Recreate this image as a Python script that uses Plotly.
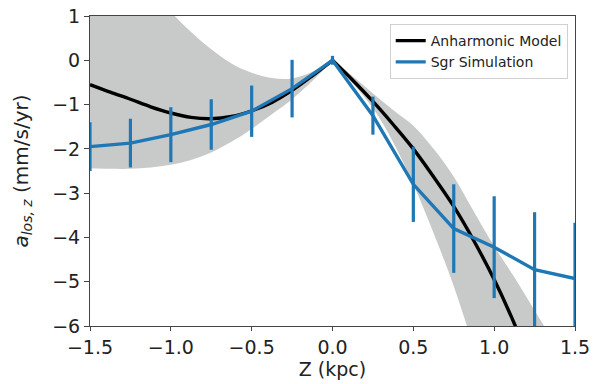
import plotly.graph_objects as go

# Simulation (Sgr) data
z_sim = [-1.5, -1.25, -1.0, -0.75, -0.5, -0.25, 0.0, 0.25, 0.5, 0.75, 1.0, 1.25, 1.5]
a_sim = [-1.95, -1.87, -1.68, -1.45, -1.15, -0.64, 0.0, -1.25, -2.8, -3.8, -4.22, -4.73, -4.93]
a_sim_err = [0.55, 0.55, 0.62, 0.57, 0.58, 0.65, 0.1, 0.43, 0.85, 1.0, 1.15, 1.3, 1.26]

# Anharmonic model curve and its uncertainty band
z_model = [-1.5, -1.375, -1.25, -1.125, -1.0, -0.875, -0.75, -0.625, -0.5, -0.375, -0.25, -0.125, 0.0,
           0.125, 0.25, 0.375, 0.5, 0.625, 0.75, 0.875, 1.0, 1.125, 1.25, 1.375, 1.5]
a_model = [-0.55, -0.72, -0.88, -1.05, -1.19, -1.29, -1.32, -1.27, -1.14, -0.95, -0.68, -0.35, 0.0,
           -0.45, -0.93, -1.45, -2.0, -2.63, -3.3, -4.08, -4.95, -5.95, -7.1, -8.4, -9.8]
band_hi = [3.8, 3.0, 2.3, 1.7, 1.1, 0.64, 0.25, -0.07, -0.28, -0.40, -0.41, -0.26, 0.0,
           -0.36, -0.75, -1.12, -1.48, -2.0, -2.63, -3.42, -4.2, -4.9, -5.65, -6.4, -7.2]
band_lo = [-2.44, -2.45, -2.45, -2.42, -2.36, -2.25, -2.08, -1.84, -1.55, -1.22, -0.88, -0.47, 0.0,
           -0.52, -1.08, -1.85, -2.8, -3.9, -5.1, -6.5, -8.0, -9.6, -11.2, -13.0, -14.8]

x_ticks = [-1.5, -1.0, -0.5, 0.0, 0.5, 1.0, 1.5]
x_ticktext = ["\u22121.5", "\u22121.0", "\u22120.5", "0.0", "0.5", "1.0", "1.5"]
y_ticks = [1, 0, -1, -2, -3, -4, -5, -6]
y_ticktext = ["1", "0", "\u22121", "\u22122", "\u22123", "\u22124", "\u22125", "\u22126"]

BAND = "#c7cac9"
BLUE = "#1f77b4"

# split the model at the cusp z = 0 so each side is drawn as a smooth curve
i0 = z_model.index(0.0)
sides = [slice(0, i0 + 1), slice(i0, len(z_model))]

fig = go.Figure()
for s in sides:
    fig.add_trace(go.Scatter(x=z_model[s], y=band_lo[s], mode="lines", line_shape="spline",
                             line=dict(width=0, color=BAND), showlegend=False, hoverinfo="skip"))
    fig.add_trace(go.Scatter(x=z_model[s], y=band_hi[s], mode="lines", line_shape="spline",
                             line=dict(width=0, color=BAND), fill="tonexty", fillcolor=BAND,
                             showlegend=False, hoverinfo="skip"))
for k, s in enumerate(sides):
    fig.add_trace(go.Scatter(x=z_model[s], y=a_model[s], mode="lines", line_shape="spline",
                             name="Anharmonic Model", legendgroup="model", showlegend=(k == 0),
                             line=dict(color="black", width=3.4)))
fig.add_trace(go.Scatter(x=z_sim, y=a_sim, mode="lines", name="Sgr Simulation",
                         line=dict(color=BLUE, width=3.4),
                         error_y=dict(type="data", array=a_sim_err, visible=True,
                                      color=BLUE, thickness=3.2, width=0)))

axis_font = dict(family="DejaVu Sans", size=19, color="#222")
fig.update_layout(
    width=601, height=384,
    margin=dict(l=82, r=34, t=8, b=66),
    paper_bgcolor="white", plot_bgcolor="white",
    showlegend=True,
    legend=dict(x=0.985, y=0.974, xanchor="right", yanchor="top",
                traceorder="normal",
                bgcolor="white", bordercolor="#d0d0d0", borderwidth=1,
                font=dict(family="DejaVu Sans", size=14, color="#222"),
                itemwidth=30, tracegroupgap=0),
    font=dict(family="DejaVu Sans"),
)
fig.update_xaxes(range=[-1.5, 1.5], tickvals=x_ticks, ticktext=x_ticktext,
                 showgrid=False, zeroline=False, showline=True, linecolor="#444",
                 linewidth=1, mirror=True, ticks="outside", ticklen=4, tickcolor="#444",
                 tickfont=axis_font, automargin=False, ticklabeloverflow="allow",
                 title=dict(text="Z (kpc)", font=axis_font, standoff=2))
fig.update_yaxes(range=[-6, 1], tickvals=y_ticks, ticktext=y_ticktext,
                 showgrid=False, zeroline=False, showline=True, linecolor="#444",
                 linewidth=1, mirror=True, ticks="outside", ticklen=5, tickcolor="#444",
                 tickfont=axis_font, automargin=False, ticklabeloverflow="allow",
                 title=dict(text="<i>a</i><sub><i>los, z</i></sub> (mm/s/yr)",
                            font=dict(family="DejaVu Sans", size=20, color="#222"), standoff=18))

fig.write_html("out.html")
